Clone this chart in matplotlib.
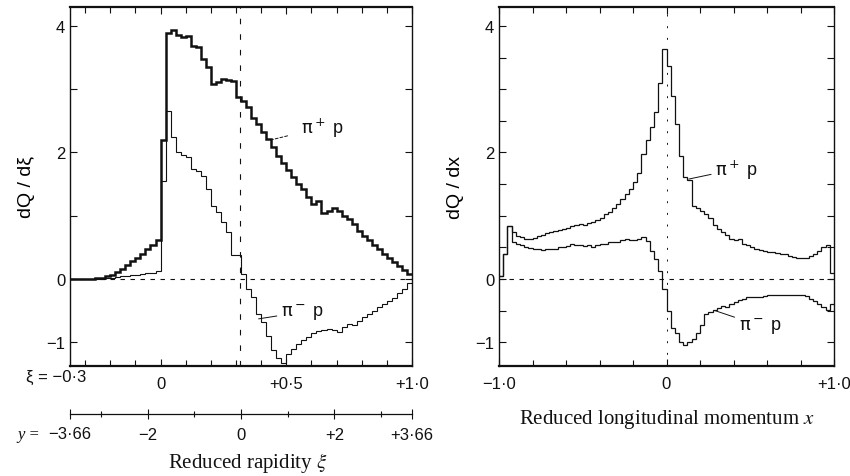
import numpy as np
import matplotlib
matplotlib.use('Agg')
from matplotlib import pyplot as plt

# left panel: reduced rapidity xi, bins of 0.02 from -0.36 to 1.0
xi_lo, xi_hi = -0.36, 1.0
pip_xi = [0.0, 0.0, 0.0, 0.0, 0.005, 0.01, 0.02, 0.04, 0.07, 0.11,
          0.16, 0.22, 0.28, 0.34, 0.40, 0.47, 0.54, 0.61,
          2.2, 3.89, 3.94, 3.86, 3.82, 3.84, 3.69, 3.66, 3.48, 3.35,
          3.08, 3.11, 3.16, 3.14, 3.13, 2.87, 2.82, 2.72, 2.55, 2.45,
          2.32, 2.22, 2.08, 1.95, 1.84, 1.72, 1.62, 1.50, 1.42, 1.30,
          1.18, 1.24, 1.05, 1.08, 1.13, 1.08, 1.00, 0.95, 0.87, 0.76,
          0.68, 0.61, 0.53, 0.47, 0.40, 0.34, 0.27, 0.20, 0.14, 0.08]
pim_xi = [0.0, 0.0, 0.0, 0.0, 0.0, 0.0, 0.005, 0.01, 0.02, 0.03,
          0.04, 0.05, 0.06, 0.07, 0.08, 0.09, 0.10, 0.12,
          1.55, 2.66, 2.24, 2.0, 1.96, 1.93, 1.74, 1.70, 1.63, 1.42,
          1.16, 1.06, 0.90, 0.74, 0.38, 0.38, 0.08, -0.15, -0.29, -0.55,
          -0.68, -0.90, -1.12, -1.25, -1.32, -1.19, -1.10, -1.03, -0.97, -0.92,
          -0.86, -0.82, -0.80, -0.79, -0.80, -0.83, -0.76, -0.71, -0.72, -0.66,
          -0.60, -0.56, -0.51, -0.45, -0.40, -0.35, -0.30, -0.22, -0.15, -0.06]
y_end = 3.66
xi_at_y0 = 0.318

# right panel: reduced longitudinal momentum x, bins of 0.025
x_lo, x_hi = -1.0, 1.0
pip_x = [0.05, 0.40, 0.84, 0.75, 0.68, 0.66, 0.64, 0.63, 0.65, 0.68,
         0.70, 0.72, 0.74, 0.76, 0.77, 0.79, 0.81, 0.84, 0.85, 0.87,
         0.86, 0.88, 0.90, 0.93, 0.97, 1.02, 1.06, 1.13, 1.19, 1.26,
         1.34, 1.42, 1.53, 1.68, 1.98, 2.20, 2.40, 2.64, 3.10, 3.64,
         3.37, 2.90, 2.45, 1.95, 1.62, 1.56, 1.15, 1.12, 1.08, 1.02,
         0.96, 0.86, 0.79, 0.74, 0.69, 0.64, 0.62, 0.63, 0.55, 0.53,
         0.51, 0.48, 0.46, 0.45, 0.43, 0.42, 0.41, 0.40, 0.39, 0.37,
         0.35, 0.34, 0.34, 0.34, 0.37, 0.40, 0.44, 0.50, 0.53, 0.10]
pim_x = [0.05, 0.40, 0.84, 0.58, 0.55, 0.53, 0.51, 0.49, 0.47, 0.47,
         0.46, 0.47, 0.47, 0.48, 0.50, 0.50, 0.52, 0.55, 0.53, 0.54,
         0.52, 0.53, 0.51, 0.54, 0.55, 0.56, 0.58, 0.58, 0.59, 0.62,
         0.63, 0.62, 0.61, 0.64, 0.66, 0.60, 0.44, 0.32, 0.12, -0.16,
         -0.50, -0.78, -0.86, -1.00, -1.05, -0.99, -0.95, -0.86, -0.72, -0.56,
         -0.52, -0.49, -0.46, -0.43, -0.45, -0.40, -0.36, -0.33, -0.31, -0.29,
         -0.29, -0.29, -0.28, -0.27, -0.26, -0.26, -0.26, -0.26, -0.26, -0.25,
         -0.25, -0.25, -0.25, -0.27, -0.31, -0.35, -0.39, -0.45, -0.49, -0.40]

ylo, yhi = -1.375, 4.3
ink = '#111111'
sans = ['Liberation Sans', 'DejaVu Sans']
serif = ['Liberation Serif', 'DejaVu Serif']
plt.rcParams['font.family'] = sans
plt.rcParams['mathtext.fontset'] = 'dejavusans'

fig = plt.figure(figsize=(8.5, 4.77), dpi=100)
W, H = 850, 477
axL = fig.add_axes([70/W, 110/H, 342/W, 359/H])
axR = fig.add_axes([499/W, 110/H, 335/W, 359/H])


def style_axes(ax):
    for s in ['top', 'bottom']:
        ax.spines[s].set_linewidth(1.6)
    for s in ['left', 'right']:
        ax.spines[s].set_linewidth(1.0)
    for s in ax.spines.values():
        s.set_color(ink)
    ax.tick_params(which='both', direction='in', top=True, right=True,
                   colors=ink, labelsize=12, width=0.8)
    ax.tick_params(which='major', length=5)
    ax.tick_params(which='minor', length=4)
    ax.set_ylim(ylo, yhi)
    ax.axhline(0, color=ink, lw=0.8, ls=(0, (4, 5)))


def label(ax, txt, xy, xytext, shrink, ls='-'):
    ax.annotate(txt, xy=xy, xytext=xytext, fontsize=13, ha='center',
                va='center', color=ink,
                arrowprops=dict(arrowstyle='-', color=ink, lw=0.7, ls=ls,
                                shrinkB=0, shrinkA=shrink))


# ---- left panel ----
edges = np.linspace(xi_lo, xi_hi, len(pip_xi) + 1)
axL.stairs(pip_xi, edges, baseline=None, color=ink, lw=1.8)
axL.stairs(pim_xi, edges, baseline=None, color=ink, lw=0.8)
style_axes(axL)
axL.set_xlim(xi_lo, xi_hi)
axL.axvline(xi_at_y0, color=ink, lw=0.8, ls=(0, (5, 9)))
axL.set_xticks([0, 0.5, 1.0])
axL.set_xticklabels(['0', '+0·5', '+1·0'])
axL.set_xticks(np.arange(-0.3, 0.95, 0.1), minor=True)
axL.set_yticks([-1, 0, 1, 2, 3, 4])
axL.set_yticklabels(['−1', '0', '', '2', '', '4'])
axL.tick_params(axis='x', pad=7)
axL.set_ylabel('dQ / dξ', fontsize=14, labelpad=8)
fig.text(86/W, 1 - 377/H, 'ξ = −0·3', ha='right', va='center', fontsize=12, color=ink)

label(axL, r'$\mathrm{\pi}^+$ p', (0.43, 2.19), (0.645, 2.4), 8, ls=(0, (3, 2)))
label(axL, r'$\mathrm{\pi}^-$ p', (0.39, -0.63), (0.565, -0.52), 1)

# rapidity scale under the left panel
axY = fig.add_axes([70/W, 1 - 415/H, 342/W, 0.0001])
for s in ['top', 'left', 'right']:
    axY.spines[s].set_visible(False)
axY.spines['bottom'].set_linewidth(0.9)
axY.spines['bottom'].set_color(ink)
axY.set_xlim(-y_end, y_end)
axY.set_yticks([])
axY.set_xticks([-y_end, -2, 0, 2, y_end])
axY.set_xticklabels(['', '−2', '0', '+2', '+3·66'])
axY.set_xticks([-3, -1, 1, 3], minor=True)
axY.tick_params(which='both', direction='inout', length=7, width=0.8,
                labelsize=12, colors=ink, pad=6)
axY.tick_params(which='minor', length=4)
fig.text(91/W, 1 - 435/H, '−3·66', ha='right', va='center', fontsize=12, color=ink)
fig.text(40/W, 1 - 435/H, 'y =', ha='right', va='center', fontsize=12, color=ink,
         style='italic', family=serif)
fig.text(248/W, 1 - 463/H, r'Reduced rapidity $\xi$', ha='center', va='center',
         fontsize=15, family=serif, color=ink, math_fontfamily='stix')

# ---- right panel ----
edges_x = np.linspace(x_lo, x_hi, len(pip_x) + 1)
axR.stairs(pip_x, edges_x, baseline=None, color=ink, lw=0.9)
axR.stairs(pim_x, edges_x, baseline=None, color=ink, lw=0.9)
style_axes(axR)
axR.set_xlim(x_lo, x_hi)
axR.axvline(0, color=ink, lw=0.7, ls=(0, (2, 10)))
axR.set_xticks([-1, 0, 1])
axR.set_xticklabels(['−1·0', '0', '+1·0'])
axR.set_xticks(np.arange(-0.8, 0.85, 0.2), minor=True)
axR.set_yticks(np.arange(-1, 4.01, 0.5))
axR.set_yticklabels(['−1', '', '0', '', '', '', '2', '', '', '', '4'])
axR.tick_params(axis='x', pad=7)
axR.set_ylabel('dQ / dx', fontsize=14, labelpad=8)
axR.set_xlabel('Reduced longitudinal momentum $x$', fontsize=15, family=serif,
               labelpad=12, color=ink, math_fontfamily='stix')
label(axR, r'$\mathrm{\pi}^+$ p', (0.133, 1.58), (0.42, 1.74), 1)
label(axR, r'$\mathrm{\pi}^-$ p', (0.29, -0.5), (0.56, -0.74), 1)

fig.savefig('out.png', dpi=100, facecolor='white')
